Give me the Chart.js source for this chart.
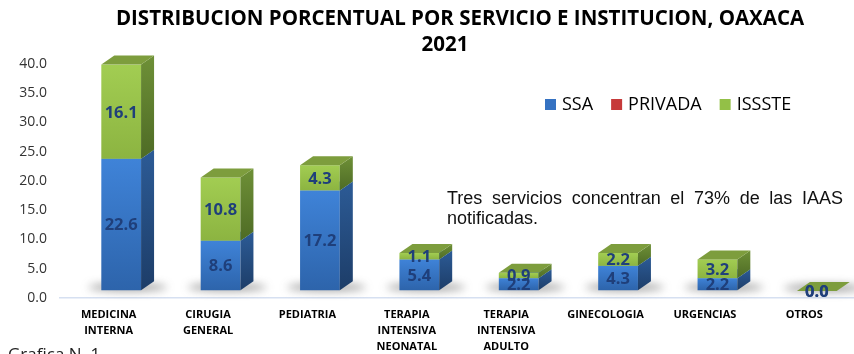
<!DOCTYPE html>
<html>
<head>
<meta charset="utf-8">
<script src="https://cdn.jsdelivr.net/npm/chart.js@4.4.1/dist/chart.umd.min.js"></script>
<style>
  html, body { margin: 0; padding: 0; background: #fff; }
</style>
</head>
<body>
<canvas id="barChartCanvas" width="854" height="354"></canvas>
<script>
const servicios = [
  ["MEDICINA", "INTERNA"],
  ["CIRUGIA", "GENERAL"],
  "PEDIATRIA",
  ["TERAPIA", "INTENSIVA", "NEONATAL"],
  ["TERAPIA", "INTENSIVA", "ADULTO"],
  "GINECOLOGIA",
  "URGENCIAS",
  "OTROS",
];
const ssa = [22.6, 8.6, 17.2, 5.4, 2.2, 4.3, 2.2, 0.0];
const privada = [0, 0, 0, 0, 0, 0, 0, 0];
const issste = [16.1, 10.8, 4.3, 1.1, 0.9, 2.2, 3.2, 0.0];
const yTicks = [0, 5, 10, 15, 20, 25, 30, 35, 40];

const titleLines = ["DISTRIBUCION PORCENTUAL POR SERVICIO E INSTITUCION, OAXACA", "2021"];
const noteLines = ["Tres servicios concentran el 73% de las IAAS", "notificadas."];

// colours for the three faces of each block
const palettes = {
  SSA: { swatch: "#3572c2", front: ["#3f83d8", "#2d64ab"], side: ["#2c5b96", "#1d3d68"], top: "#5a92d8" },
  PRIVADA: { swatch: "#c63a3a", front: ["#d04a47", "#a8302e"], side: ["#8f2a28", "#6a1e1d"], top: "#d9605d" },
  ISSSTE: { swatch: "#93c047", front: ["#a2cd52", "#8cb441"], side: ["#6e9037", "#4e6b25"], top: "#7d9d3d" },
};

const DEPTH_X = 13;
const DEPTH_Y = 9;
const FRONT_SHIFT_X = 12.5;
const FRONT_SHIFT_Y = -7;

function frontRect(el) {
  const p = el.getProps(["x", "y", "base", "width"], true);
  const x0 = p.x - p.width / 2 + FRONT_SHIFT_X;
  return {
    x0: x0,
    x1: x0 + p.width,
    yTop: Math.min(p.y, p.base) + FRONT_SHIFT_Y,
    yBot: Math.max(p.y, p.base) + FRONT_SHIFT_Y,
  };
}

function drawBlock(ctx, r, pal, withTop) {
  const { x0, x1, yTop, yBot } = r;
  if (yBot - yTop > 0.3) {
    let g = ctx.createLinearGradient(0, yTop, 0, yBot);
    g.addColorStop(0, pal.front[0]);
    g.addColorStop(1, pal.front[1]);
    ctx.fillStyle = g;
    ctx.fillRect(x0, yTop, x1 - x0, yBot - yTop);

    g = ctx.createLinearGradient(0, yTop - DEPTH_Y, 0, yBot);
    g.addColorStop(0, pal.side[0]);
    g.addColorStop(1, pal.side[1]);
    ctx.fillStyle = g;
    ctx.beginPath();
    ctx.moveTo(x1, yBot);
    ctx.lineTo(x1 + DEPTH_X, yBot - DEPTH_Y);
    ctx.lineTo(x1 + DEPTH_X, yTop - DEPTH_Y);
    ctx.lineTo(x1, yTop);
    ctx.closePath();
    ctx.fill();
  }
  if (withTop) {
    ctx.fillStyle = pal.top;
    ctx.beginPath();
    ctx.moveTo(x0, yTop);
    ctx.lineTo(x1, yTop);
    ctx.lineTo(x1 + DEPTH_X, yTop - DEPTH_Y);
    ctx.lineTo(x0 + DEPTH_X, yTop - DEPTH_Y);
    ctx.closePath();
    ctx.fill();
  }
}

function drawValues(chart) {
  const ctx = chart.ctx;
  ctx.save();
  ctx.font = "bold 16.5px 'Open Sans'";
  ctx.textAlign = "center";
  ctx.textBaseline = "alphabetic";
  ctx.fillStyle = "#1f3f7a";
  chart.data.datasets.forEach((ds, d) => {
    if (!ds.showValues) return;
    const meta = chart.getDatasetMeta(d);
    meta.data.forEach((el, i) => {
      const r = frontRect(el);
      const cy = (r.yTop + r.yBot) / 2;
      ctx.fillText(ds.data[i].toFixed(1), (r.x0 + r.x1) / 2, cy + 5.9);
    });
  });
  ctx.restore();
}

const blocks3d = {
  id: "blocks3d",
  beforeDatasetsDraw(chart) {
    const ctx = chart.ctx;
    const metas = chart.data.datasets.map((d, i) => chart.getDatasetMeta(i));
    const count = chart.data.labels.length;

    // soft floor shadow under every stack
    for (let i = 0; i < count; i++) {
      const r = frontRect(metas[0].data[i]);
      const cx = (r.x0 + r.x1 + DEPTH_X) / 2;
      const rx = (r.x1 + DEPTH_X - r.x0) / 2 + 13;
      ctx.save();
      ctx.filter = "blur(4px)";
      ctx.fillStyle = "rgba(70,70,70,0.5)";
      ctx.beginPath();
      ctx.ellipse(cx, r.yBot - 3, rx, 4, 0, 0, Math.PI * 2);
      ctx.fill();
      ctx.restore();
    }

    for (let i = 0; i < count; i++) {
      metas.forEach((meta, d) => {
        const pal = palettes[chart.data.datasets[d].label];
        const isLast = d === metas.length - 1;
        const r = frontRect(meta.data[i]);
        if (r.yBot - r.yTop < 0.3 && !isLast) return;
        drawBlock(ctx, r, pal, true);
      });
    }

    drawValues(chart);
    // the blocks replace the default flat bars
    return false;
  },
};

function drawJustified(ctx, text, x, y, width) {
  const words = text.split(" ");
  const used = words.reduce((s, w) => s + ctx.measureText(w).width, 0);
  const gap = (width - used) / (words.length - 1);
  let cx = x;
  words.forEach((w) => {
    ctx.fillText(w, cx, y);
    cx += ctx.measureText(w).width + gap;
  });
}

const decorations = {
  id: "decorations",
  afterDraw(chart) {
    const ctx = chart.ctx;
    ctx.save();

    // title
    ctx.fillStyle = "#000";
    ctx.textAlign = "center";
    ctx.textBaseline = "alphabetic";
    ctx.font = "bold 20.5px 'Open Sans'";
    ctx.fillText(titleLines[0], 460, 25);
    ctx.fillText(titleLines[1], 445, 51);

    // legend
    ctx.font = "18px 'Open Sans'";
    ctx.textAlign = "left";
    ctx.textBaseline = "middle";
    let lx = 545;
    chart.data.datasets.forEach((ds) => {
      const pal = palettes[ds.label];
      ctx.fillStyle = pal.swatch;
      ctx.fillRect(lx, 99, 11, 11);
      lx += 17;
      ctx.fillStyle = "#000";
      ctx.fillText(ds.label, lx, 105);
      lx += ctx.measureText(ds.label).width + 18;
    });

    // note
    ctx.font = "18px 'Liberation Sans'";
    ctx.textBaseline = "alphabetic";
    ctx.fillStyle = "#111";
    drawJustified(ctx, noteLines[0], 447, 204, 396);
    ctx.fillText(noteLines[1], 447, 224);

    ctx.font = "17px 'Open Sans'";
    ctx.fillStyle = "#222";
    ctx.fillText("Grafica N. 1", 8, 360);

    ctx.restore();
  },
};

function buildChart() {
  const ctx = document.getElementById("barChartCanvas").getContext("2d");
  return new Chart(ctx, {
    type: "bar",
    data: {
      labels: servicios,
      datasets: [
        { label: "SSA", data: ssa, backgroundColor: palettes.SSA.swatch, showValues: true },
        { label: "PRIVADA", data: privada, backgroundColor: palettes.PRIVADA.swatch, showValues: false },
        { label: "ISSSTE", data: issste, backgroundColor: palettes.ISSSTE.swatch, showValues: true },
      ],
    },
    options: {
      responsive: false,
      animation: false,
      devicePixelRatio: 1,
      layout: { padding: { top: 64, right: 0, bottom: 0, left: 0 } },
      datasets: { bar: { categoryPercentage: 1, barPercentage: 0.4 } },
      plugins: {
        legend: { display: false },
        title: { display: false },
        tooltip: { enabled: false },
      },
      scales: {
        x: {
          stacked: true,
          grid: { display: false },
          border: { display: false },
          ticks: {
            autoSkip: false,
            maxRotation: 0,
            padding: 1,
            color: "#000",
            font: { family: "'Open Sans'", size: 11, weight: "bold", lineHeight: 1.45 },
          },
          afterFit(scale) {
            scale.height = 56;
          },
        },
        y: {
          stacked: true,
          min: yTicks[0],
          max: yTicks[yTicks.length - 1],
          border: { display: false },
          grid: {
            drawTicks: false,
            lineWidth: 1.5,
            color: (c) => (c.tick && c.tick.value === 0 ? "#d6e0f1" : "rgba(0,0,0,0)"),
          },
          ticks: {
            stepSize: yTicks[1] - yTicks[0],
            padding: 12,
            color: "#333",
            font: { family: "'Open Sans'", size: 14 },
            callback: (v) => v.toFixed(1),
          },
          afterFit(scale) {
            scale.width = 59;
          },
        },
      },
    },
    plugins: [blocks3d, decorations],
  });
}

document.addEventListener("DOMContentLoaded", () => {
  buildChart();
});
</script>
</body>
</html>
